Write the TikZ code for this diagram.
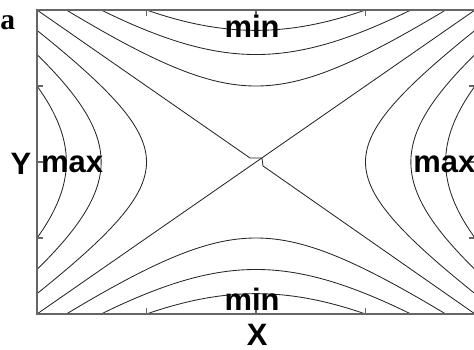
\documentclass[tikz,border=0pt]{standalone}
\usepackage{fontspec}
\setmainfont{Liberation Sans}
\newfontfamily\panelfont{Liberation Serif}
\usetikzlibrary{calc}

\begin{document}
\begin{tikzpicture}[x=5.475cm, y=3.8cm,
    contour/.style={black!85, line width=0.6pt},
    frame/.style={black!60, line width=0.8pt},
    lbl/.style={font=\fontsize{22}{22}\selectfont\bfseries, inner sep=0pt}]
  \useasboundingbox (-1.169,-1.2368) rectangle (0.9954,1.0658);
  % Level curves x^2-y^2 = c
  \foreach \c [evaluate=\c as \s using {sqrt(1-\c)}] in {0.25,0.5,0.75} {
    \draw[contour, domain=-\s:\s, samples=60, smooth] plot ({sqrt(\c+(\x)*(\x))},\x);
    \draw[contour, domain=-\s:\s, samples=60, smooth] plot ({-sqrt(\c+(\x)*(\x))},\x);
    \draw[contour, domain=-\s:\s, samples=60, smooth] plot (\x,{sqrt(\c+(\x)*(\x))});
    \draw[contour, domain=-\s:\s, samples=60, smooth] plot (\x,{-sqrt(\c+(\x)*(\x))});
  }
  % Separatrices, with the small break at the saddle
  \draw[contour] (-1,-1) -- (1,1);
  \draw[contour] (-1,1) -- (-0.027,0.026) -- (0.027,0.026) -- (0.032,-0.026) -- (1,-1);
  % Frame and ticks
  \draw[frame] (-1,-1) rectangle (1,1);
  \foreach \t in {-0.5,0,0.5} {
    \draw[frame] (\t,1) -- ++(0pt,-0.15cm);
    \draw[frame] (\t,-1) -- ++(0pt,0.15cm);
    \draw[frame] (-1,\t) -- ++(0.15cm,0pt);
    \draw[frame] (1,\t) -- ++(-0.15cm,0pt);
  }
  % Labels
  \node[lbl, anchor=base] (mintop) at (-0.018,0.816) {min};
  \node[lbl, anchor=base] (minbot) at (-0.018,-0.974) {min};
  \node[lbl, anchor=west] (maxleft) at (-0.982,-0.013) {max};
  \node[lbl, anchor=west] (maxright) at (0.717,-0.013) {max};
  \node[lbl] (ylabel) at (-1.073,-0.013) {Y};
  \node[lbl] (xlabel) at (0.005,-1.138) {X};
  \node[font=\panelfont\fontsize{21}{21}\selectfont\bfseries, inner sep=0pt] (panel) at (-1.134,0.915) {a};
\end{tikzpicture}
\end{document}
